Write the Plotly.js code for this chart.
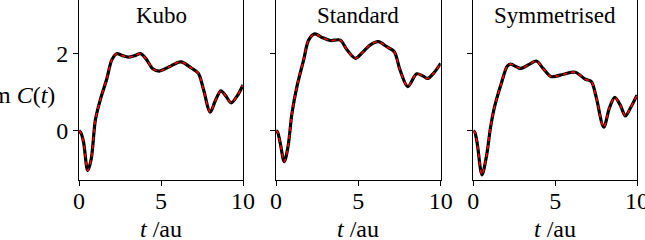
<!DOCTYPE html>
<html>
<head>
<meta charset="utf-8">
<script src="https://cdn.plot.ly/plotly-3.0.1.min.js"></script>
<style>html,body{margin:0;padding:0;background:#fff;}#chart{width:645px;height:240px;}</style>
</head>
<body>
<div id="chart"></div>
<script>
const panelTitles = ["Kubo", "Standard", "Symmetrised"];
const xTitle = "<i>t</i> /au";
const yTitle = "Im <i>C</i>(<i>t</i>)";
const xTicks = [0, 5, 10];
const yTicks = [0, 2];

const kuboT = [0, 0.12, 0.28, 0.53, 0.75, 1.0, 1.3, 1.7, 2.0, 2.3, 2.65, 3.0, 3.4, 3.75, 4.1, 4.5, 4.9, 5.5, 6.2, 6.85, 7.28, 7.6, 8.0, 8.3, 8.65, 8.95, 9.28, 9.65, 10];
const kuboY = [0, -0.06, -0.3, -1.03, -0.72, 0.28, 0.8, 1.35, 1.83, 1.99, 1.94, 1.9, 1.94, 1.99, 1.85, 1.6, 1.54, 1.65, 1.78, 1.62, 1.48, 1.05, 0.48, 0.76, 1.03, 0.9, 0.72, 0.9, 1.18];

const standardT = [0, 0.1, 0.26, 0.5, 0.73, 0.97, 1.27, 1.68, 1.98, 2.35, 2.79, 3.3, 3.9, 4.31, 4.82, 5.2, 5.71, 6.21, 6.72, 7.18, 7.53, 8.0, 8.54, 8.94, 9.21, 9.6, 10];
const standardY = [0, -0.04, -0.33, -0.8, -0.41, 0.45, 1.14, 1.83, 2.34, 2.5, 2.41, 2.33, 2.34, 2.09, 1.87, 2.0, 2.21, 2.3, 2.17, 2.04, 1.57, 1.14, 1.47, 1.41, 1.35, 1.5, 1.74];

const symT = [0, 0.1, 0.24, 0.53, 0.8, 1.06, 1.3, 1.71, 2.08, 2.28, 2.9, 3.44, 3.85, 4.26, 4.73, 5.07, 5.52, 6.23, 6.84, 7.21, 7.5, 7.97, 8.31, 8.64, 8.98, 9.29, 9.59, 10];
const symY = [0, -0.05, -0.33, -1.14, -0.67, 0.1, 0.62, 1.22, 1.67, 1.72, 1.61, 1.72, 1.8, 1.61, 1.4, 1.41, 1.46, 1.51, 1.33, 1.27, 0.88, 0.09, 0.58, 0.86, 0.66, 0.38, 0.58, 0.92];

const seriesT = [kuboT, standardT, symT];
const seriesY = [kuboY, standardY, symY];

const W = 645, H = 240, B = 60, PH = H - B;
const domPx = [[79, 243], [276, 440.7], [473.3, 637]];
const font = "Liberation Serif, Times New Roman, serif";
const FS = 24;

const traces = [];
const layout = {
  width: W, height: H,
  margin: {l: 0, r: 0, t: 0, b: B},
  showlegend: false,
  paper_bgcolor: "#fff", plot_bgcolor: "#fff",
  font: {family: font, size: FS, color: "#000"},
  annotations: [],
};

for (let i = 0; i < 3; i++) {
  const sfx = i === 0 ? "" : String(i + 1);
  traces.push({x: seriesT[i], y: seriesY[i], xaxis: "x" + sfx, yaxis: "y" + sfx, type: "scatter", mode: "lines",
    line: {color: "#000", width: 3.2, shape: "spline", smoothing: 0.9}, hoverinfo: "skip"});
  traces.push({x: seriesT[i], y: seriesY[i], xaxis: "x" + sfx, yaxis: "y" + sfx, type: "scatter", mode: "lines",
    line: {color: "#ff0000", width: 1.6, dash: "4px,4px", shape: "spline", smoothing: 0.9}, hoverinfo: "skip"});
  layout["xaxis" + sfx] = {
    domain: [domPx[i][0] / W, domPx[i][1] / W],
    anchor: "y" + sfx,
    range: [0, 10], tickvals: xTicks, ticktext: xTicks.map(String),
    showline: true, linecolor: "#000", linewidth: 1, mirror: false,
    ticks: "outside", ticklen: 5, tickcolor: "#000", tickwidth: 1,
    showgrid: false, zeroline: false,
    ticklabeloverflow: "allow",
    ticklabelstandoff: -6,
    tickfont: {family: font, size: FS, color: "#000"},
  };
  layout["yaxis" + sfx] = {
    domain: [0, 1],
    anchor: "x" + sfx,
    range: [-1.274, 3.377], tickvals: yTicks, ticktext: i === 0 ? yTicks.map(String) : yTicks.map(() => ""),
    showline: true, linecolor: "#000", linewidth: 1, mirror: true,
    ticks: "outside", ticklen: 5, tickcolor: "#000", tickwidth: 1,
    showgrid: false, zeroline: false,
    tickfont: {family: font, size: FS, color: "#000"},
  };
  const cx = (domPx[i][0] + domPx[i][1]) / 2 / W;
  layout.annotations.push({
    text: panelTitles[i], xref: "paper", yref: "paper",
    x: cx, y: 1 - 15 / PH,
    xanchor: "center", yanchor: "middle", showarrow: false,
    font: {family: font, size: 23, color: "#000"},
  });
  layout.annotations.push({
    text: xTitle, xref: "paper", yref: "paper",
    x: cx, y: -(229 - PH) / PH,
    xanchor: "center", yanchor: "middle", showarrow: false,
    font: {family: font, size: FS, color: "#000"},
  });
}
layout.annotations.push({
  text: yTitle, xref: "paper", yref: "paper",
  x: 57 / W, y: 1 - 95 / PH, xanchor: "right", yanchor: "middle", showarrow: false,
  font: {family: font, size: FS, color: "#000"},
});

Plotly.newPlot("chart", traces, layout, {staticPlot: true, displayModeBar: false});
</script>
</body>
</html>
